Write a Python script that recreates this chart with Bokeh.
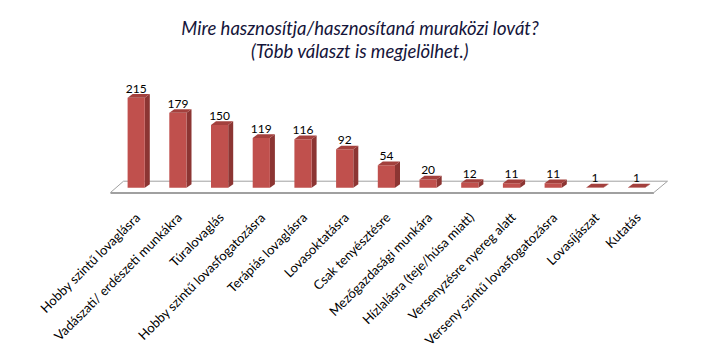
import numpy as np
from bokeh.plotting import figure
from bokeh.models import Range1d, ColumnDataSource, Label
from bokeh.core.properties import value
from bokeh.embed import file_html
from bokeh.resources import INLINE

# ---------------- data ----------------
categories = [
    "Hobby szintű lovaglásra",
    "Vadászati/ erdészeti munkákra",
    "Túralovaglás",
    "Hobby szintű lovasfogatozásra",
    "Terápiás lovaglásra",
    "Lovasoktatásra",
    "Csak tenyésztésre",
    "Mezőgazdasági munkára",
    "Hízlalásra (teje/húsa miatt)",
    "Versenyzésre nyereg alatt",
    "Verseny szintű lovasfogatozásra",
    "Lovasíjászat",
    "Kutatás",
]
counts = [215, 179, 150, 119, 116, 92, 54, 20, 12, 11, 11, 1, 1]
title_lines = ["Mire hasznosítja/hasznosítaná muraközi lovát?",
               "(Több választ is megjelölhet.)"]

# ---------------- layout constants (pixels) ----------------
W, H = 719, 355
PXU = 41.7      # px per category step
PYU = 0.419     # px per count unit
X0PX = 135.7    # screen x of first category
Y0PX = 187.3    # screen y (from top) of zero

FONT = "Lato"
FRONT = "#C0504D"
SIDE = "#8C3533"
TOP = "#A3403D"
FLOOR_LINE = "#A0A0A0"

def dxu(px):
    return px / PXU

def dyu(px):
    return px / PYU

xs0 = -X0PX / PXU
ys0 = -(H - Y0PX) / PYU

p = figure(width=W, height=H,
           x_range=Range1d(xs0, xs0 + W / PXU),
           y_range=Range1d(ys0, ys0 + H / PYU),
           x_axis_type=None, y_axis_type=None,
           toolbar_location=None, output_backend="svg",
           min_border=0, min_border_left=0, min_border_right=0,
           min_border_top=0, min_border_bottom=0)
p.outline_line_color = None
p.grid.visible = False
p.background_fill_color = "white"
p.border_fill_color = "white"

n = len(categories)
x = np.arange(n, dtype=float)
v = np.array(counts, dtype=float)

# ---------------- floor ----------------
f_front = -dyu(4.7)
f_back = dyu(6.6)
floor_x = [-dxu(25.7), (n - 1) + dxu(17.3), (n - 1) + dxu(30.9), -dxu(12.7)]
floor_y = [f_front, f_front, f_back, f_back]
p.patch(floor_x, floor_y, fill_color="white", line_color=FLOOR_LINE, line_width=1)
p.line([floor_x[0], floor_x[1]], [f_front - dyu(1), f_front - dyu(1)],
       line_color=FLOOR_LINE, line_width=1)

# ---------------- 3D bars ----------------
hw = dxu(8.6)
ddx = dxu(5.0)
ddy = dyu(3.6)

side_xs = [[xi + hw, xi + hw + ddx, xi + hw + ddx, xi + hw] for xi in x]
side_ys = [[0, ddy, vi + ddy, vi] for vi in v]
top_xs = [[xi - hw, xi + hw, xi + hw + ddx, xi - hw + ddx] for xi in x]
top_ys = [[vi, vi, vi + ddy, vi + ddy] for vi in v]

p.patches(side_xs, side_ys, fill_color=SIDE, line_color=None)
p.quad(left=x - hw, right=x + hw, bottom=0, top=v, fill_color=FRONT, line_color=None)
p.patches(top_xs, top_ys, fill_color=TOP, line_color=None)

# ---------------- value labels ----------------
src = ColumnDataSource(dict(x=x, y=v + ddy + dyu(5.5), t=[str(c) for c in counts]))
p.text(x="x", y="y", text="t", source=src, text_align="center",
       text_baseline="alphabetic", text_font=value(FONT),
       text_font_size="12px", text_color="#000000")

# ---------------- category labels ----------------
csrc = ColumnDataSource(dict(x=x + dxu(1.5), y=np.full(n, -dyu(27.0)), t=categories))
p.text(x="x", y="y", text="t", source=csrc, angle=np.pi / 4,
       text_align="right", text_baseline="middle", text_font=value(FONT),
       text_font_size="13px", text_color="#000000")

# ---------------- title ----------------
for i, line in enumerate(title_lines):
    p.add_layout(Label(x=359.5, y=H - (27 + 23 * i), x_units="screen", y_units="screen",
                       text=line, text_align="center", text_baseline="alphabetic",
                       text_font=FONT, text_font_style="italic",
                       text_font_size="18.5px", text_color="#15153a"))

open("out.html", "w").write(file_html(p, INLINE))
